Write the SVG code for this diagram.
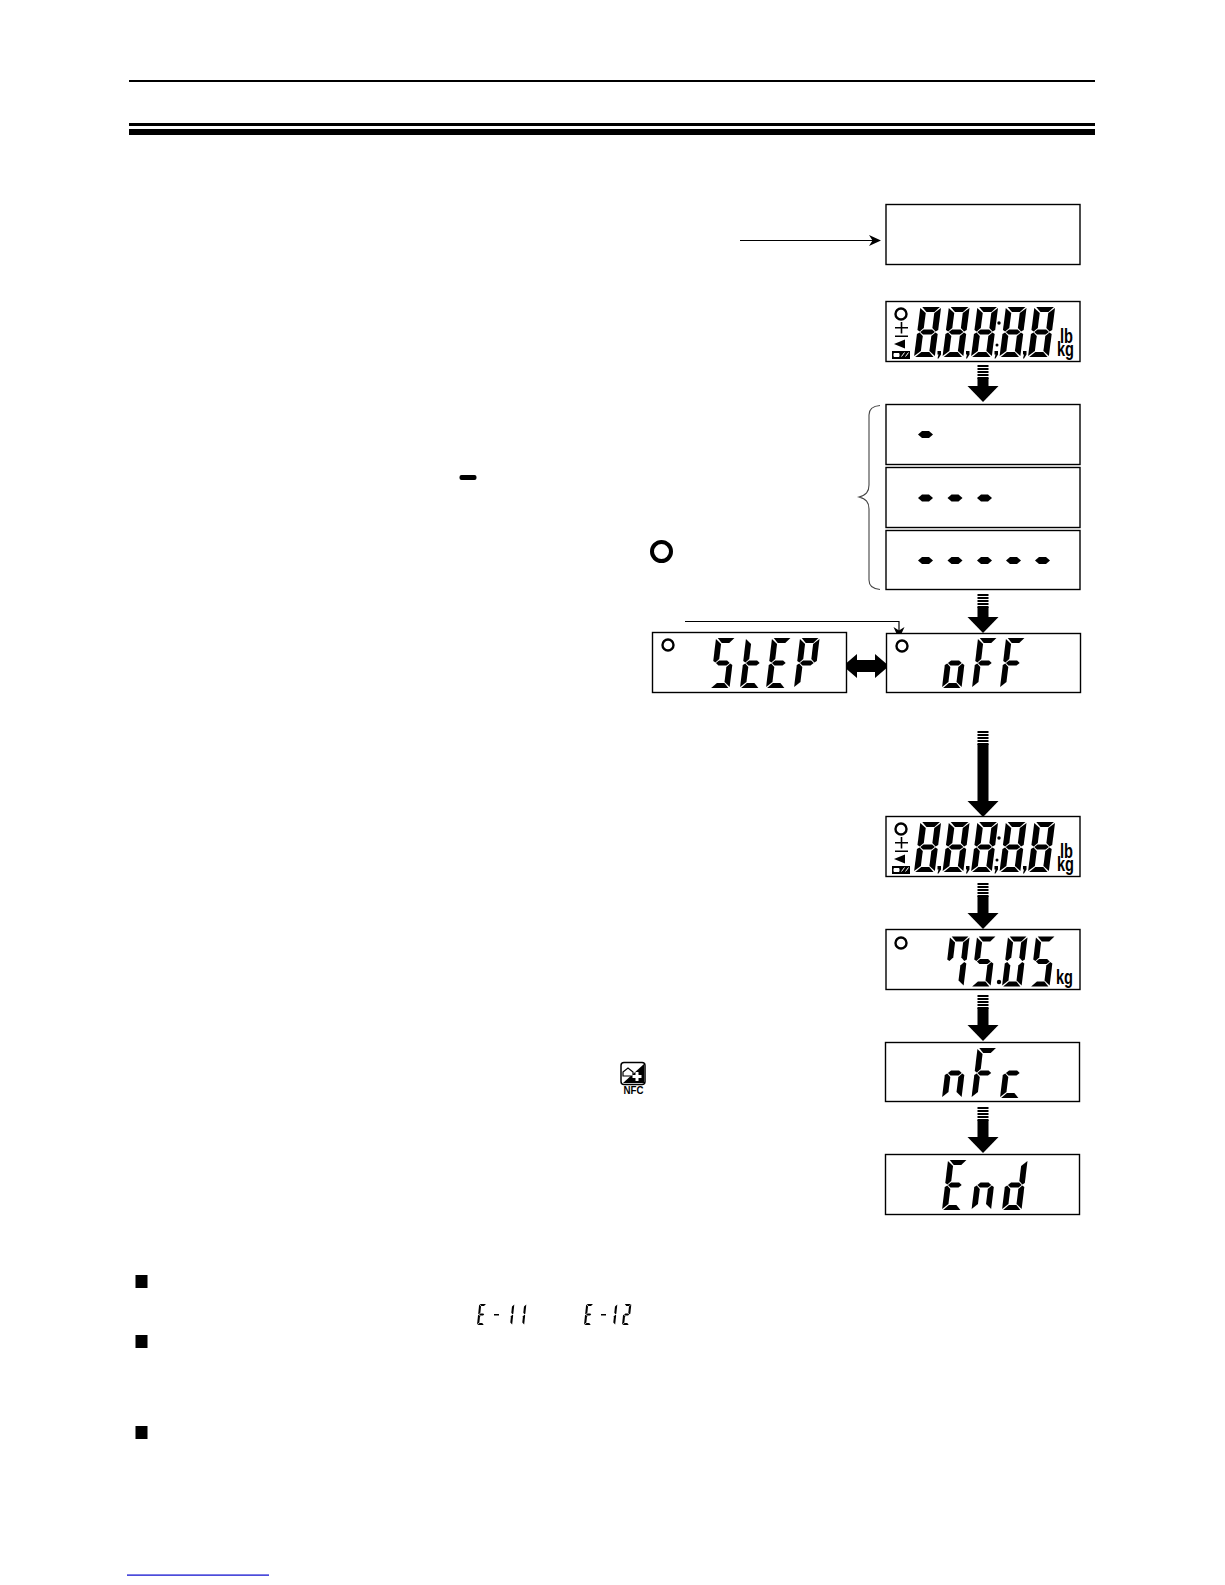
<svg xmlns="http://www.w3.org/2000/svg" xmlns:xlink="http://www.w3.org/1999/xlink" width="1225" height="1585" viewBox="0 0 1225 1585">
<style>
.box{fill:#fff;stroke:#000;stroke-width:1.4}
.thin{fill:none;stroke:#000;stroke-width:1.2}
.ring{fill:none;stroke:#000;stroke-width:2.4}
.unit{font-family:"Liberation Sans",Arial,sans-serif;font-weight:700;fill:#000}
</style>
<defs>
<polygon id="a" points="1.5,0 16,0 12,5 5.5,5"/>
<polygon id="f" points="0,1 5,6 5,21 2,24.5 0,23"/>
<polygon id="b" points="17,1 17,23 15,24.5 12,21 12,6"/>
<polygon id="m" points="2.5,25 5,22.500 12,22.500 14.500,25 12,27.500 5,27.500"/>
<polygon id="e" points="0,27 2,25.500 5,29 5,44 0,49"/>
<polygon id="c" points="17,27 17,49 12,44 12,29 15,25.500"/>
<polygon id="d" points="1,50 5.500,45 12,45 16,50"/>
<g id="g8" transform="translate(0,50) skewX(-6) translate(0,-50)"><use href="#a"/><use href="#b"/><use href="#c"/><use href="#d"/><use href="#e"/><use href="#f"/><use href="#m"/></g>
<g id="gS" transform="translate(0,50) skewX(-6) translate(0,-50)"><use href="#a"/><use href="#f"/><use href="#m"/><use href="#c"/><use href="#d"/></g>
<g id="gt" transform="translate(0,50) skewX(-6) translate(0,-50)"><use href="#f"/><use href="#m"/><use href="#e"/><use href="#d"/></g>
<g id="gE" transform="translate(0,50) skewX(-6) translate(0,-50)"><use href="#a"/><use href="#f"/><use href="#m"/><use href="#e"/><use href="#d"/></g>
<g id="gP" transform="translate(0,50) skewX(-6) translate(0,-50)"><use href="#a"/><use href="#b"/><use href="#f"/><use href="#m"/><use href="#e"/></g>
<g id="go" transform="translate(0,50) skewX(-6) translate(0,-50)"><use href="#m"/><use href="#c"/><use href="#d"/><use href="#e"/></g>
<g id="gF" transform="translate(0,50) skewX(-6) translate(0,-50)"><use href="#a"/><use href="#f"/><use href="#m"/><use href="#e"/></g>
<g id="g7" transform="translate(0,50) skewX(-6) translate(0,-50)"><use href="#a"/><use href="#b"/><use href="#c"/><use href="#f"/></g>
<g id="g5" transform="translate(0,50) skewX(-6) translate(0,-50)"><use href="#a"/><use href="#f"/><use href="#m"/><use href="#c"/><use href="#d"/></g>
<g id="g0" transform="translate(0,50) skewX(-6) translate(0,-50)"><use href="#a"/><use href="#b"/><use href="#c"/><use href="#d"/><use href="#e"/><use href="#f"/></g>
<g id="gn" transform="translate(0,50) skewX(-6) translate(0,-50)"><use href="#m"/><use href="#c"/><use href="#e"/></g>
<g id="gc" transform="translate(0,50) skewX(-6) translate(0,-50)"><use href="#m"/><use href="#e"/><use href="#d"/></g>
<g id="gd" transform="translate(0,50) skewX(-6) translate(0,-50)"><use href="#b"/><use href="#c"/><use href="#m"/><use href="#e"/><use href="#d"/></g>
<g id="g1" transform="translate(0,50) skewX(-6) translate(0,-50)"><use href="#b"/><use href="#c"/></g>
<g id="g2" transform="translate(0,50) skewX(-6) translate(0,-50)"><use href="#a"/><use href="#b"/><use href="#m"/><use href="#e"/><use href="#d"/></g>
<polygon id="dash" points="0,0 4,-3.500 11,-3.500 15,0 11,3.500 4,3.500"/>
<path id="hatch" d="M0 0h11v2H0zM0 3h11v2H0zM0 6h11v2H0zM0 9h11v2H0zM0 12h11v2H0z"/>
<polygon id="head" points="-15.500,0 15.500,0 0,16"/>
<polygon id="comma" points="0,0 3.500,0 3.500,3.500 1,7.500 0,7.500 1,3.500 0,3.500"/>
<g id="full">
<circle class="ring" cx="15" cy="13" r="5.500"/>
<path d="M9 26h13v1.600H9zM14.700 21h1.600v11.500h-1.600zM9 34.500h13v1.600H9z"/>
<polygon points="8,43 19,38.500 19,47.500"/>
<rect x="6" y="50" width="18" height="8"/>
<path d="M8 52.500h5v3H8zM15.500 55.500l3-4M19.500 55.500l3-4" fill="#fff" stroke="#fff" stroke-width="1"/>
<use href="#g8" transform="translate(28,6) scale(1.22,1)"/>
<use href="#g8" transform="translate(56.500,6) scale(1.22,1)"/>
<use href="#g8" transform="translate(85,6) scale(1.22,1)"/>
<use href="#g8" transform="translate(113.500,6) scale(1.22,1)"/>
<use href="#g8" transform="translate(142,6) scale(1.22,1)"/>
<use href="#comma" x="51.500" y="50"/><use href="#comma" x="80" y="50"/><use href="#comma" x="108.500" y="50"/><use href="#comma" x="137" y="50"/>
<circle cx="113" cy="22" r="1.700"/><circle cx="111" cy="44" r="1.500"/>
<text class="unit" x="174" y="42" font-size="20" textLength="13" lengthAdjust="spacingAndGlyphs">lb</text>
<text class="unit" x="171" y="55" font-size="20" textLength="17" lengthAdjust="spacingAndGlyphs">kg</text>
</g>
</defs>

<rect width="1225" height="1585" fill="#fff"/>

<g id="rules">
<rect x="129" y="80" width="966" height="2"/>
<rect x="129" y="123" width="966" height="3"/>
<rect x="129" y="129" width="966" height="6"/>
<rect x="127" y="1574.500" width="142" height="1.200" fill="#0000cc"/>
</g>

<g id="connectors">
<path class="thin" d="M740 240.500H878"/>
<polygon points="881,240.500 869,235 872.500,240.500 869,246"/>
<path class="thin" d="M685 621.500H899V632"/>
<polygon points="899,639 893.500,627 899,630.500 904.500,627"/>
<polygon points="843,666 857,654 857,660 875,660 875,654 889,666 875,678 875,672 857,672 857,678"/>
<g id="arrow1"><use href="#hatch" x="977.500" y="365"/><rect x="977.500" y="378" width="11" height="8"/><use href="#head" x="983" y="386"/></g>
<g id="arrow2"><use href="#hatch" x="977.500" y="594"/><rect x="977.500" y="607" width="11" height="10"/><use href="#head" x="983" y="617"/></g>
<g id="arrow3"><use href="#hatch" x="977.500" y="731"/><rect x="977.500" y="744" width="11" height="58"/><use href="#head" x="983" y="801"/></g>
<g id="arrow4"><use href="#hatch" x="977.500" y="883"/><rect x="977.500" y="896" width="11" height="18"/><use href="#head" x="983" y="913"/></g>
<g id="arrow5"><use href="#hatch" x="977.500" y="995"/><rect x="977.500" y="1008" width="11" height="18"/><use href="#head" x="983" y="1025"/></g>
<g id="arrow6"><use href="#hatch" x="977.500" y="1107"/><rect x="977.500" y="1120" width="11" height="18"/><use href="#head" x="983" y="1137"/></g>
<path id="brace" d="M880 405.500C873 406 869 409 869 415V485C869 492 866 495 859 497C866 499 869 502 869 509V580C869 586 873 589 880 589.500" fill="none" stroke="#444" stroke-width="1.100"/>
</g>

<g id="display-blank"><rect class="box" x="886" y="204.500" width="194" height="60"/></g>
<g id="display-all-1"><rect class="box" x="886" y="301.500" width="194" height="60"/><use href="#full" x="886" y="301"/></g>
<g id="display-dash1"><rect class="box" x="886" y="404.500" width="194" height="60"/><use href="#dash" x="918" y="434.500"/></g>
<g id="display-dash3"><rect class="box" x="886" y="467.500" width="194" height="60"/><use href="#dash" x="918" y="498"/><use href="#dash" x="947.500" y="498"/><use href="#dash" x="977" y="498"/></g>
<g id="display-dash5"><rect class="box" x="886" y="530.500" width="194" height="59"/><use href="#dash" x="918" y="560.500"/><use href="#dash" x="947.500" y="560.500"/><use href="#dash" x="977" y="560.500"/><use href="#dash" x="1006" y="560.500"/><use href="#dash" x="1035" y="560.500"/></g>
<g id="display-step"><rect class="box" x="652.500" y="632.500" width="194" height="60"/><circle class="ring" cx="668" cy="645" r="5.500"/>
<use href="#gS" transform="translate(710,638) scale(1.15,1)"/><use href="#gt" transform="translate(740,638) scale(1.15,1)"/><use href="#gE" transform="translate(766,638) scale(1.15,1)"/><use href="#gP" transform="translate(794,638) scale(1.15,1)"/></g>
<g id="display-off"><rect class="box" x="886.500" y="633.500" width="194" height="59"/><circle class="ring" cx="902" cy="646" r="5.500"/>
<use href="#go" transform="translate(942,638) scale(1.15,1)"/><use href="#gF" transform="translate(972,638) scale(1.15,1)"/><use href="#gF" transform="translate(1000,638) scale(1.15,1)"/></g>
<g id="display-all-2"><rect class="box" x="886" y="816.500" width="194" height="60"/><use href="#full" x="886" y="816"/></g>
<g id="display-weight"><rect class="box" x="886" y="929.500" width="194" height="60"/><circle class="ring" cx="901" cy="943" r="5.500"/>
<use href="#g7" transform="translate(944,936.500) scale(1.15,1)"/><use href="#g5" transform="translate(971,936.500) scale(1.15,1)"/><circle cx="999" cy="982" r="2.200"/><use href="#g0" transform="translate(1002,936.500) scale(1.15,1)"/><use href="#g5" transform="translate(1030,936.500) scale(1.15,1)"/>
<text class="unit" x="1056" y="984" font-size="20" textLength="17" lengthAdjust="spacingAndGlyphs">kg</text></g>
<g id="display-nfc"><rect class="box" x="885.500" y="1042.500" width="194" height="59"/>
<use href="#gn" transform="translate(942,1048) scale(1.15,1)"/><use href="#gF" transform="translate(971.500,1048) scale(1.15,1)"/><use href="#gc" transform="translate(1000,1048) scale(1.15,1)"/></g>
<g id="display-end"><rect class="box" x="885.500" y="1154.500" width="194" height="60"/>
<use href="#gE" transform="translate(942,1160) scale(1.15,1)"/><use href="#gn" transform="translate(971.500,1160) scale(1.15,1)"/><use href="#gd" transform="translate(1002,1160) scale(1.15,1)"/></g>

<g id="inline-symbols">
<rect x="459.500" y="475" width="17" height="5" rx="2"/>
<circle cx="661.500" cy="551.500" r="9.500" fill="none" stroke="#000" stroke-width="4"/>
<g id="nfc-icon">
<rect x="621" y="1062.500" width="24" height="22" rx="3" fill="#fff" stroke="#000" stroke-width="1.500"/>
<polygon points="644,1064 644,1083 623,1083" fill="#000"/>
<path d="M623 1072l5-4 5 4v4h-10z" fill="#fff" stroke="#000" stroke-width="1.200"/>
<path d="M635.500 1072h3v3h3v3h-3v3h-3v-3h-3v-3h3z" fill="#fff"/>
<text class="unit" x="623.500" y="1094" font-size="10" textLength="20" lengthAdjust="spacingAndGlyphs">NFC</text>
</g>
<use href="#gE" transform="translate(477,1304) scale(.42)"/>
<rect x="494" y="1314" width="5" height="1.500"/>
<use href="#g1" transform="translate(505,1304) scale(.42)"/>
<use href="#g1" transform="translate(517,1304) scale(.42)"/>
<use href="#gE" transform="translate(584,1304) scale(.42)"/>
<rect x="601" y="1314" width="5" height="1.500"/>
<use href="#g1" transform="translate(608,1304) scale(.42)"/>
<use href="#g2" transform="translate(622,1304) scale(.42)"/>
</g>

<g id="bullets">
<rect x="135.500" y="1275" width="12" height="13"/>
<rect x="135.500" y="1335" width="12" height="13"/>
<rect x="135.500" y="1426" width="12" height="13"/>
</g>
</svg>
